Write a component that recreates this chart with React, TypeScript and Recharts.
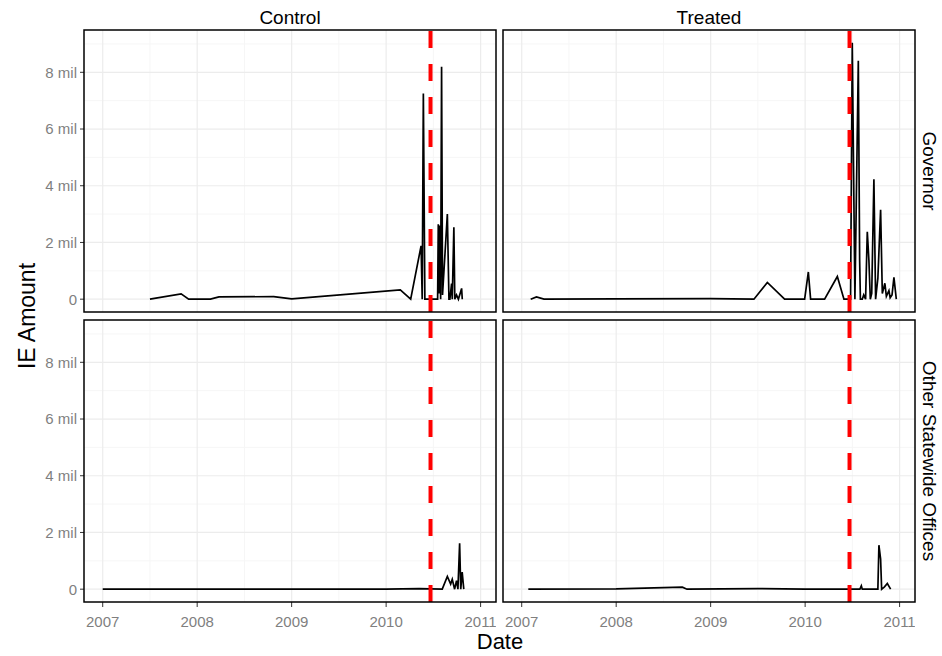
import { LineChart, Line, XAxis, YAxis, CartesianGrid, ReferenceLine } from "recharts";

// facet levels
const columns = ["Control", "Treated"];
const rows = ["Governor", "Other Statewide Offices"];

// axis ticks (x in decimal years, y in millions)
const yearTicks = [2007, 2008, 2009, 2010, 2011];
const yearMinor = [2007.5, 2008.5, 2009.5, 2010.5];
const amountTicks = [0, 2, 4, 6, 8];
const amountMinor = [1, 3, 5, 7, 9];
const treatmentStart = 2010.47;

// Control / Governor
const controlGovYears = [
  2007.5, 2007.83, 2007.91, 2008.14, 2008.23, 2008.81, 2009.0, 2010.15, 2010.26, 2010.37,
  2010.382, 2010.394, 2010.41, 2010.545, 2010.552, 2010.56, 2010.569, 2010.577, 2010.587,
  2010.597, 2010.648, 2010.665, 2010.675, 2010.693, 2010.7, 2010.717, 2010.727, 2010.745,
  2010.765, 2010.799, 2010.806,
];
const controlGovAmounts = [
  0, 0.19, 0, 0, 0.08, 0.09, 0.01, 0.33, 0, 1.88,
  0, 7.25, 0, 0, 2.64, 0.2, 2.6, 0, 8.2,
  0.15, 3.0, 0, 0, 0.55, 0, 2.54, 0, 0.15,
  0, 0.38, 0,
];

// Treated / Governor
const treatedGovYears = [
  2007.095, 2007.156, 2007.236, 2008.0, 2009.0, 2009.458, 2009.6, 2009.783, 2009.995, 2010.034,
  2010.058, 2010.206, 2010.341, 2010.411, 2010.481, 2010.499, 2010.527, 2010.563, 2010.577,
  2010.585, 2010.605, 2010.62, 2010.64, 2010.658, 2010.675, 2010.69, 2010.705, 2010.728,
  2010.746, 2010.77, 2010.799, 2010.817, 2010.844, 2010.86, 2010.887, 2010.9, 2010.92,
  2010.94, 2010.965,
];
const treatedGovAmounts = [
  0, 0.08, 0, 0.01, 0.02, 0, 0.59, 0, 0, 0.96,
  0, 0, 0.8, 0, 0, 9.04, 0, 8.41, 1.38,
  0, 0, 0.15, 0, 2.38, 1.38, 0, 0.2, 4.23,
  0, 0.74, 3.15, 0.2, 0.56, 0.1, 0.3, 0.05, 0.15,
  0.77, 0,
];

// Control / Other Statewide Offices
const controlOtherYears = [
  2007.0, 2008.0, 2009.0, 2010.0, 2010.35, 2010.594, 2010.648, 2010.683, 2010.7, 2010.725,
  2010.745, 2010.76, 2010.778, 2010.79, 2010.805, 2010.822,
];
const controlOtherAmounts = [
  0, 0, 0, 0, 0.02, 0, 0.45, 0.18, 0.35, 0,
  0.3, 0, 1.62, 0, 0.6, 0,
];

// Treated / Other Statewide Offices
const treatedOtherYears = [
  2007.07, 2008.0, 2008.7, 2008.75, 2009.5, 2010.0, 2010.58, 2010.595, 2010.605, 2010.77,
  2010.781, 2010.799, 2010.81, 2010.84, 2010.87, 2010.905,
];
const treatedOtherAmounts = [
  0, 0.01, 0.07, 0, 0.02, 0, 0, 0.12, 0, 0,
  1.55, 1.06, 0, 0.08, 0.2, 0,
];

const toRows = (years: number[], amounts: number[]) =>
  years.map((t, i) => ({ t, v: amounts[i] }));

const X_DOMAIN: [number, number] = [2006.802, 2011.163];
const Y_DOMAIN: [number, number] = [-0.452, 9.492];

const FONT = "'Liberation Sans', Arial, Helvetica, sans-serif";
const PANEL_W = 412;
const PANEL_H = 282;
const Y_AXIS_W = 84;
const X_AXIS_H = 40;
const COL_X = [84, 503];
const ROW_Y = [30, 320];

interface PanelProps {
  data: { t: number; v: number }[];
  col: number;
  row: number;
}

function Panel({ data, col, row }: PanelProps) {
  const showY = col === 0;
  const showX = row === 1;
  const left = COL_X[col] - (showY ? Y_AXIS_W : 0);
  return (
    <div style={{ position: "absolute", left, top: ROW_Y[row] }}>
      <LineChart
        width={PANEL_W + (showY ? Y_AXIS_W : 0)}
        height={PANEL_H + (showX ? X_AXIS_H : 0)}
        data={data}
        margin={{ top: 0, right: 0, bottom: 0, left: 0 }}
      >
        <CartesianGrid stroke="#f6f6f6" strokeWidth={1} horizontalValues={amountMinor} verticalValues={yearMinor} />
        <CartesianGrid stroke="#ececec" strokeWidth={1.2} horizontalValues={amountTicks} verticalValues={yearTicks} />
        <XAxis
          dataKey="t"
          type="number"
          domain={X_DOMAIN}
          ticks={yearTicks}
          allowDataOverflow
          hide={!showX}
          height={X_AXIS_H}
          axisLine={false}
          tickSize={5}
          tickMargin={9}
          tickLine={{ stroke: "#333333" }}
          tick={{ fill: "#7f7f7f", fontSize: 15, fontFamily: FONT }}
        />
        <YAxis
          type="number"
          domain={Y_DOMAIN}
          ticks={amountTicks}
          allowDataOverflow
          hide={!showY}
          width={Y_AXIS_W}
          axisLine={false}
          tickSize={4}
          tickMargin={3}
          tickLine={{ stroke: "#333333" }}
          tick={{ fill: "#7f7f7f", fontSize: 15, fontFamily: FONT }}
          tickFormatter={(v: number) => (v === 0 ? "0" : `${v} mil`)}
        />
        <Line
          type="linear"
          dataKey="v"
          stroke="#000000"
          strokeWidth={1.7}
          dot={false}
          isAnimationActive={false}
        />
        <ReferenceLine x={treatmentStart} stroke="#ff0000" strokeWidth={4} strokeDasharray="17 16" />
      </LineChart>
    </div>
  );
}

export default function App() {
  const panels = [
    { data: toRows(controlGovYears, controlGovAmounts), col: 0, row: 0 },
    { data: toRows(treatedGovYears, treatedGovAmounts), col: 1, row: 0 },
    { data: toRows(controlOtherYears, controlOtherAmounts), col: 0, row: 1 },
    { data: toRows(treatedOtherYears, treatedOtherAmounts), col: 1, row: 1 },
  ];
  return (
    <div style={{ position: "absolute", left: 0, top: 0, width: 942, height: 656, background: "#fff", fontFamily: FONT }}>
      {panels.map((p) => (
        <Panel key={`${p.col}-${p.row}`} {...p} />
      ))}
      <svg width={942} height={656} style={{ position: "absolute", left: 0, top: 0, pointerEvents: "none" }}>
        {COL_X.map((x) =>
          ROW_Y.map((y) => (
            <rect key={`${x}-${y}`} x={x} y={y} width={PANEL_W} height={PANEL_H} fill="none" stroke="#000" strokeWidth={1.5} />
          ))
        )}
        {columns.map((c, i) => (
          <text key={c} x={COL_X[i] + PANEL_W / 2} y={17} textAnchor="middle" dominantBaseline="central" fontSize={19} fill="#000">
            {c}
          </text>
        ))}
        {rows.map((r, i) => (
          <text
            key={r}
            transform={`translate(929, ${ROW_Y[i] + PANEL_H / 2}) rotate(90)`}
            textAnchor="middle"
            dominantBaseline="central"
            fontSize={19}
            fill="#000"
          >
            {r}
          </text>
        ))}
        <text transform="translate(27, 316) rotate(-90)" textAnchor="middle" dominantBaseline="central" fontSize={23} fill="#000">
          IE Amount
        </text>
        <text x={500} y={641} textAnchor="middle" dominantBaseline="central" fontSize={22} fill="#000">
          Date
        </text>
      </svg>
    </div>
  );
}
